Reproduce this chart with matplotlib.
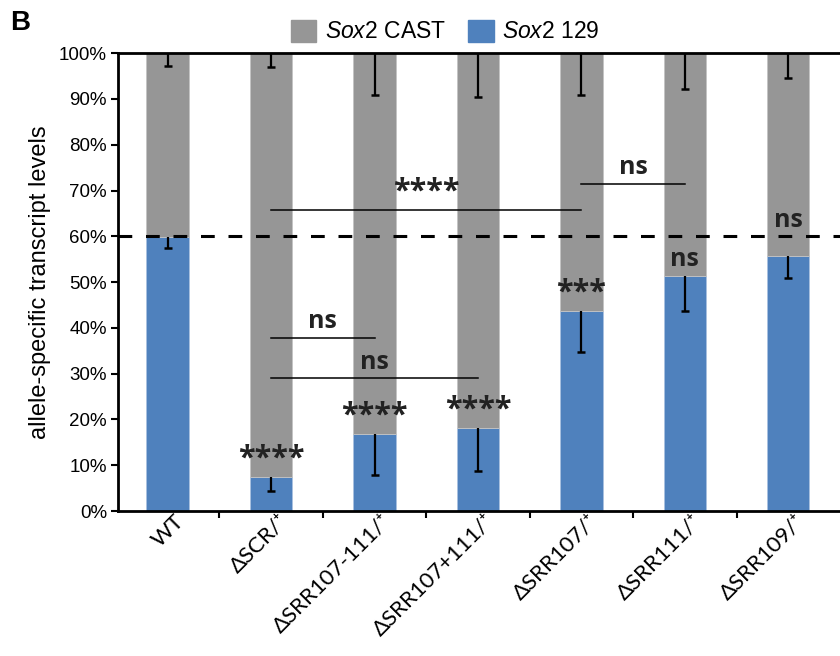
import numpy as np
import matplotlib.pyplot as plt
from matplotlib.patches import Patch

# values (fractions)
labels = ['WT', 'ΔSCR/⁺', 'ΔSRR107-111/⁺', 'ΔSRR107+111/⁺',
          'ΔSRR107/⁺', 'ΔSRR111/⁺', 'ΔSRR109/⁺']
allele_129 = [0.598, 0.074, 0.168, 0.181, 0.437, 0.513, 0.557]
err_129 = [0.024, 0.030, 0.089, 0.094, 0.090, 0.076, 0.048]
err_cast = [0.028, 0.030, 0.092, 0.096, 0.092, 0.079, 0.055]
star_text = ['', '****', '****', '****', '***', 'ns', 'ns']

gray = '#969696'
blue = '#4f81bd'

plt.rcParams['font.family'] = ['Liberation Sans', 'DejaVu Sans']
plt.rcParams['mathtext.fontset'] = 'custom'
plt.rcParams['mathtext.it'] = 'Liberation Sans:italic'
plt.rcParams['mathtext.rm'] = 'Liberation Sans'

fig = plt.figure(figsize=(8.4, 6.56), dpi=100)
ax = fig.add_axes([0.1405, 0.221, 0.8595, 0.698])

x = np.arange(len(labels))
cast = [1 - v for v in allele_129]
w = 0.41
ax.bar(x, allele_129, w, color=blue, edgecolor='#a9c1e0', linewidth=0.6, zorder=2)
ax.bar(x, cast, w, bottom=allele_129, color=gray, edgecolor='#c4c4c4', linewidth=0.6, zorder=2)

# lower-only error bars, cap only at the bottom
low_129 = [v - e for v, e in zip(allele_129, err_129)]
low_cast = [1 - e for e in err_cast]
ax.vlines(x, low_129, allele_129, color='black', linewidth=1.6, zorder=3)
ax.vlines(x, low_cast, 1, color='black', linewidth=1.6, zorder=3)
ax.plot(x, low_129, linestyle='none', marker='_', markersize=6, mew=1.8, color='black', zorder=3)
ax.plot(x, low_cast, linestyle='none', marker='_', markersize=6, mew=1.8, color='black', zorder=3)

ax.axhline(0.6, color='black', linestyle=(0, (4.5, 4.5)), linewidth=2.2, zorder=4)

# significance marks above each bar
sig_font = ['Open Sans', 'DejaVu Sans']
for i, t in enumerate(star_text):
    if not t:
        continue
    yy = allele_129[i] + 0.008
    if i == 6:
        yy = 0.607
    ax.text(x[i], yy, t, ha='center', va='bottom', fontsize=22 if '*' in t else 18,
            fontweight='bold', color='#222222', family=sig_font, zorder=5)

# comparison brackets
brackets = [(1, 4, 0.657, '****'), (4, 5, 0.714, 'ns'),
            (1, 2, 0.378, 'ns'), (1, 3, 0.290, 'ns')]
for a, b, yy, t in brackets:
    ax.plot([x[a], x[b]], [yy, yy], color='black', linewidth=1.1, zorder=5)
    ax.text((x[a] + x[b]) / 2, yy + 0.008, t, ha='center', va='bottom',
            fontsize=22 if '*' in t else 18, fontweight='bold', color='#222222',
            family=sig_font, zorder=5)

ax.set_xlim(-0.48, 6.5)
ax.set_ylim(0, 1)
yt = np.arange(0, 1.01, 0.1)
ax.set_yticks(yt)
ax.set_yticklabels([f'{int(round(v * 100))}%' for v in yt], fontsize=13.5)
ax.set_ylabel('allele-specific transcript levels', fontsize=17, labelpad=6)

# label anchors sit a little right of the bar centres (invisible major ticks)
ax.set_xticks(x + 0.13)
ax.set_xticklabels(labels, rotation=45, ha='right', va='center', rotation_mode='anchor',
                   fontsize=16, family=['Lato', 'DejaVu Sans'])
ax.tick_params(axis='x', which='major', length=0, pad=5)
ax.set_xticks(x[:-1] + 0.5, minor=True)
ax.tick_params(axis='x', which='minor', length=5, width=1.5, direction='out')
ax.tick_params(axis='y', length=5, width=1.5, direction='out', pad=3)

for s in ['left', 'bottom', 'top']:
    ax.spines[s].set_linewidth(2)
ax.spines['right'].set_visible(False)

handles = [Patch(color=gray), Patch(color=blue)]
fig.legend(handles, ['$\\mathit{Sox2}$ CAST', '$\\mathit{Sox2}$ 129'], loc='center',
           bbox_to_anchor=(0.53, 0.952), ncol=2, frameon=False, fontsize=16.5,
           handlelength=1.1, handleheight=1.1, columnspacing=1.0, handletextpad=0.35)

fig.text(0.012, 0.965, 'B', fontsize=20, fontweight='bold', va='center')

fig.savefig('out.png', dpi=100)
